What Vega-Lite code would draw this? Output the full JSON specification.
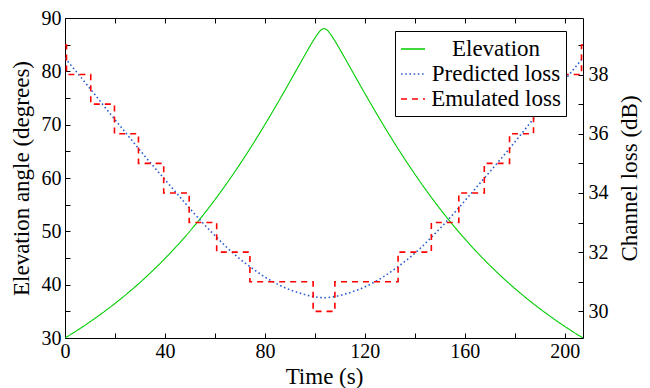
{
  "$schema": "https://vega.github.io/schema/vega-lite/v6.json",
  "width": 518,
  "height": 320,
  "autosize": {"type": "none"},
  "padding": {"left": 65, "top": 18, "right": 67, "bottom": 50},
  "datasets": {
    "elev": [
      {"t": 0, "e": 30.0}, {"t": 3.65, "e": 31.06}, {"t": 8.65, "e": 32.6}, {"t": 13.65, "e": 34.24},
      {"t": 18.65, "e": 35.99}, {"t": 23.65, "e": 37.85}, {"t": 28.65, "e": 39.84}, {"t": 33.65, "e": 41.98},
      {"t": 38.65, "e": 44.25}, {"t": 43.65, "e": 46.7}, {"t": 48.65, "e": 49.31}, {"t": 53.65, "e": 52.1},
      {"t": 58.65, "e": 55.09}, {"t": 63.65, "e": 58.27}, {"t": 68.65, "e": 61.65}, {"t": 73.65, "e": 65.22},
      {"t": 78.65, "e": 68.98}, {"t": 83.65, "e": 72.9}, {"t": 86.15, "e": 74.92}, {"t": 88.65, "e": 76.96},
      {"t": 91.15, "e": 79.03}, {"t": 93.65, "e": 81.11}, {"t": 95.65, "e": 82.77}, {"t": 97.65, "e": 84.41},
      {"t": 98.65, "e": 85.21}, {"t": 99.65, "e": 85.98}, {"t": 100.65, "e": 86.71}, {"t": 101.65, "e": 87.35},
      {"t": 102.65, "e": 87.82}, {"t": 103.65, "e": 88.0}, {"t": 104.65, "e": 87.82}, {"t": 105.65, "e": 87.35},
      {"t": 106.65, "e": 86.71}, {"t": 107.65, "e": 85.98}, {"t": 108.65, "e": 85.21}, {"t": 109.65, "e": 84.41},
      {"t": 111.65, "e": 82.77}, {"t": 113.65, "e": 81.11}, {"t": 116.15, "e": 79.03}, {"t": 118.65, "e": 76.96},
      {"t": 121.15, "e": 74.92}, {"t": 123.65, "e": 72.9}, {"t": 128.65, "e": 68.98}, {"t": 133.65, "e": 65.22},
      {"t": 138.65, "e": 61.65}, {"t": 143.65, "e": 58.27}, {"t": 148.65, "e": 55.09}, {"t": 153.65, "e": 52.1},
      {"t": 158.65, "e": 49.31}, {"t": 163.65, "e": 46.7}, {"t": 168.65, "e": 44.25}, {"t": 173.65, "e": 41.98},
      {"t": 178.65, "e": 39.84}, {"t": 183.65, "e": 37.85}, {"t": 188.65, "e": 35.99}, {"t": 193.65, "e": 34.24},
      {"t": 198.65, "e": 32.6}, {"t": 203.65, "e": 31.06}, {"t": 207.3, "e": 30.0}
    ],
    "pred": [
      {"t": 0, "v": 38.56}, {"t": 5, "v": 38.05}, {"t": 10, "v": 37.53}, {"t": 15, "v": 37.0},
      {"t": 20, "v": 36.48}, {"t": 25, "v": 35.96}, {"t": 30, "v": 35.44}, {"t": 35, "v": 34.94},
      {"t": 40, "v": 34.45}, {"t": 45, "v": 33.96}, {"t": 50, "v": 33.47}, {"t": 55, "v": 33.0},
      {"t": 60, "v": 32.56}, {"t": 65, "v": 32.14}, {"t": 70, "v": 31.77}, {"t": 75, "v": 31.45},
      {"t": 80, "v": 31.16}, {"t": 85, "v": 30.92}, {"t": 90, "v": 30.73}, {"t": 95, "v": 30.59},
      {"t": 100, "v": 30.49}, {"t": 103.65, "v": 30.46}, {"t": 107.3, "v": 30.49}, {"t": 112.3, "v": 30.59},
      {"t": 117.3, "v": 30.73}, {"t": 122.3, "v": 30.92}, {"t": 127.3, "v": 31.16}, {"t": 132.3, "v": 31.45},
      {"t": 137.3, "v": 31.77}, {"t": 142.3, "v": 32.14}, {"t": 147.3, "v": 32.56}, {"t": 152.3, "v": 33.0},
      {"t": 157.3, "v": 33.47}, {"t": 162.3, "v": 33.96}, {"t": 167.3, "v": 34.45}, {"t": 172.3, "v": 34.94},
      {"t": 177.3, "v": 35.44}, {"t": 182.3, "v": 35.96}, {"t": 187.3, "v": 36.48}, {"t": 192.3, "v": 37.0},
      {"t": 197.3, "v": 37.53}, {"t": 202.3, "v": 38.05}, {"t": 207.3, "v": 38.56}
    ],
    "emu": [
      {"t": 0, "v": 39}, {"t": 0.6, "v": 38}, {"t": 10.3, "v": 37}, {"t": 19.8, "v": 36},
      {"t": 29.4, "v": 35}, {"t": 39.5, "v": 34}, {"t": 49.7, "v": 33}, {"t": 60.7, "v": 32},
      {"t": 74, "v": 31}, {"t": 99.3, "v": 30}, {"t": 108, "v": 31}, {"t": 133.3, "v": 32},
      {"t": 146.6, "v": 33}, {"t": 157.6, "v": 34}, {"t": 167.8, "v": 35}, {"t": 177.9, "v": 36},
      {"t": 187.5, "v": 37}, {"t": 197, "v": 38}, {"t": 206.7, "v": 39}, {"t": 207.3, "v": 39}
    ]
  },
  "layer": [
    {
      "data": {"name": "elev"},
      "mark": {"type": "line", "interpolate": "monotone", "strokeWidth": 1.1, "clip": true},
      "encoding": {
        "x": {
          "field": "t", "type": "quantitative",
          "scale": {"domain": [0, 207.3], "nice": false, "zero": false},
          "axis": {"orient": "bottom", "title": "Time (s)", "values": [0, 20, 40, 60, 80, 100, 120, 140, 160, 180, 200],
                   "labelExpr": "datum.value % 40 == 0 ? datum.label : ''", "labelPadding": 8, "titlePadding": 4}
        },
        "y": {
          "field": "e", "type": "quantitative",
          "scale": {"domain": [30, 90], "nice": false, "zero": false},
          "axis": {"orient": "left", "title": "Elevation angle (degrees)", "values": [30, 35, 40, 45, 50, 55, 60, 65, 70, 75, 80, 85, 90],
                   "labelExpr": "datum.value % 10 == 0 ? datum.label : ''", "labelPadding": 9, "titlePadding": 8}
        },
        "color": {
          "datum": "Elevation", "type": "nominal",
          "scale": {"domain": ["Elevation", "Predicted loss", "Emulated loss"], "range": ["#00cc00", "#2d5fcf", "#ff0000"]},
          "legend": {"title": null}
        },
        "strokeDash": {
          "datum": "Elevation", "type": "nominal",
          "scale": {"domain": ["Elevation", "Predicted loss", "Emulated loss"], "range": [[1, 0], [1.6, 2.6], [6, 5]]},
          "legend": {"title": null}
        }
      }
    },
    {
      "layer": [
        {
          "data": {"name": "pred"},
          "mark": {"type": "line", "strokeWidth": 1.6, "interpolate": "monotone", "clip": true},
          "encoding": {
            "x": {
              "field": "t", "type": "quantitative",
              "axis": {"orient": "top", "title": null, "labels": false, "values": [0, 20, 40, 60, 80, 100, 120, 140, 160, 180, 200]}
            },
            "y": {
              "field": "v", "type": "quantitative",
              "scale": {"domain": [29.1, 39.91], "nice": false, "zero": false},
              "axis": {"orient": "right", "title": "Channel loss (dB)", "values": [30, 31, 32, 33, 34, 35, 36, 37, 38, 39],
                       "labelExpr": "datum.value % 2 == 0 ? datum.label : ''", "labelPadding": 10, "titlePadding": 10,
                       "titleAngle": 270, "titleBaseline": "top"}
            },
            "color": {"datum": "Predicted loss", "type": "nominal", "legend": {"title": null}},
            "strokeDash": {"datum": "Predicted loss", "type": "nominal", "legend": {"title": null}}
          }
        },
        {
          "data": {"name": "emu"},
          "mark": {"type": "line", "strokeWidth": 1.6, "interpolate": "step-after", "clip": true},
          "encoding": {
            "x": {
              "field": "t", "type": "quantitative",
              "axis": {"orient": "top", "title": null, "labels": false, "values": [0, 20, 40, 60, 80, 100, 120, 140, 160, 180, 200]}
            },
            "y": {
              "field": "v", "type": "quantitative",
              "scale": {"domain": [29.1, 39.91], "nice": false, "zero": false},
              "axis": {"orient": "right", "title": "Channel loss (dB)", "values": [30, 31, 32, 33, 34, 35, 36, 37, 38, 39],
                       "labelExpr": "datum.value % 2 == 0 ? datum.label : ''", "labelPadding": 10, "titlePadding": 10,
                       "titleAngle": 270, "titleBaseline": "top"}
            },
            "color": {"datum": "Emulated loss", "type": "nominal", "legend": {"title": null}},
            "strokeDash": {"datum": "Emulated loss", "type": "nominal", "legend": {"title": null}}
          }
        }
      ]
    }
  ],
  "resolve": {"scale": {"y": "independent"}, "axis": {"x": "independent", "y": "independent"}},
  "config": {
    "font": "Liberation Serif",
    "view": {"stroke": "black", "strokeWidth": 1},
    "axis": {
      "domain": false, "grid": false, "tickColor": "black", "tickSize": -5, "tickWidth": 1,
      "labelColor": "black", "titleColor": "black", "labelFont": "Liberation Serif", "titleFont": "Liberation Serif",
      "labelFontSize": 20, "titleFontSize": 23, "titleFontWeight": "normal",
      "labelFlush": false, "labelOverlap": false
    },
    "legend": {
      "orient": "none", "legendX": 330, "legendY": 13,
      "strokeColor": "black", "fillColor": "white", "padding": 5, "cornerRadius": 0,
      "labelFont": "Liberation Serif", "labelFontSize": 23, "labelColor": "black", "labelLimit": 0,
      "labelAlign": "center", "labelOffset": 70,
      "symbolType": "stroke", "symbolSize": 576, "symbolStrokeWidth": 1.6, "rowPadding": 0
    }
  }
}
